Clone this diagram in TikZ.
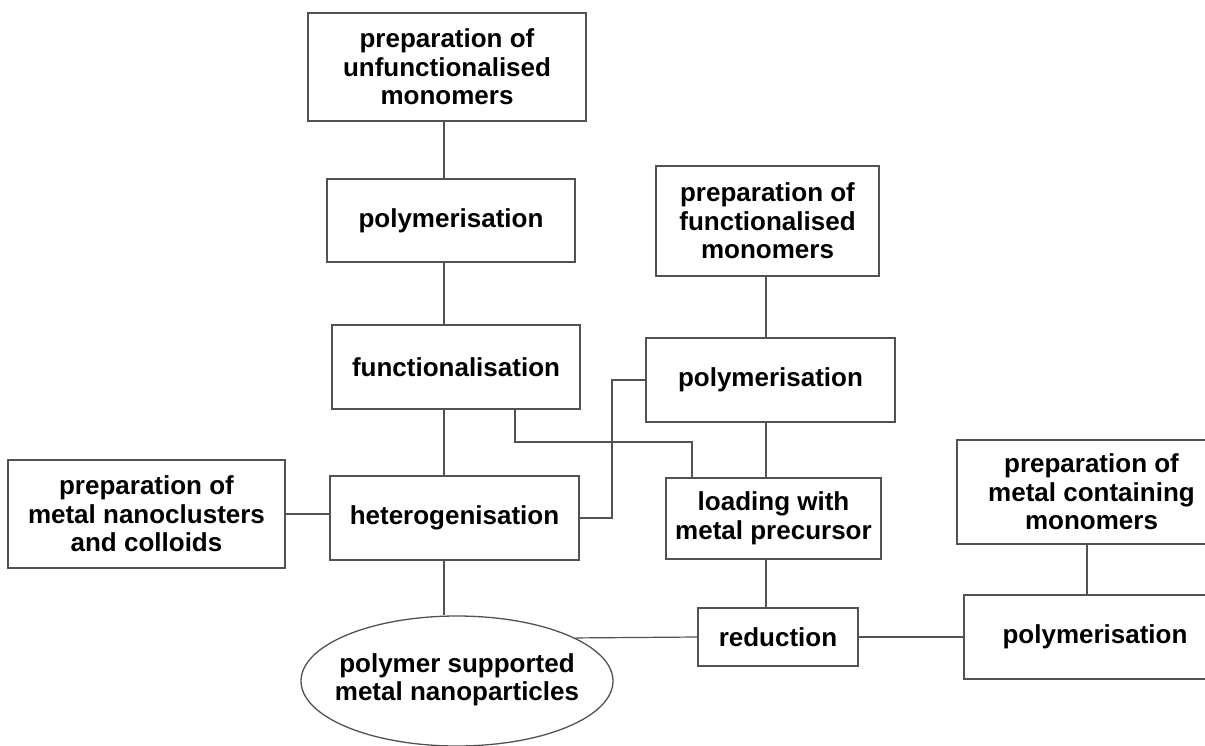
\documentclass[tikz,border=0pt]{standalone}
\usepackage{fontspec}
\setmainfont{Liberation Sans}
\usetikzlibrary{shapes.geometric}
\tikzset{
  lbl/.style={font=\fontsize{26}{28.5}\selectfont\bfseries, align=center, text=black},
  box/.style={lbl, draw=black!68, line width=1.3pt, rectangle, inner sep=0pt},
  oval/.style={lbl, draw=black!68, line width=1.3pt, ellipse, inner sep=0pt},
  conn/.style={draw=black!68, line width=1.2pt}
}
\begin{document}
\begin{tikzpicture}[x=1pt,y=-1pt]
\useasboundingbox (0,0) rectangle (1205,745);
\clip (0,0) rectangle (1205,745);
\fill[white] (0,0) rectangle (1205,745);

\node[box, minimum width=278pt, minimum height=108pt] (top) at (447,67) {preparation of\\unfunctionalised\\monomers};
\node[box, minimum width=248pt, minimum height=83pt] (polyL) at (451,220.5) {polymerisation};
\node[box, minimum width=223pt, minimum height=110pt] (prepF) at (767.5,221) {preparation of\\functionalised\\monomers};
\node[box, minimum width=248pt, minimum height=84pt] (func) at (456,367) {functionalisation};
\node[box, minimum width=249pt, minimum height=84pt] (polyR) at (770.5,380) {polymerisation};
\node[box, minimum width=249pt, minimum height=84pt] (hetero) at (454.5,518) {heterogenisation};
\node[box, minimum width=277pt, minimum height=108pt] (nano) at (146.5,514) {preparation of\\metal nanoclusters\\and colloids};
\node[box, minimum width=215pt, minimum height=81pt] (load) at (773.5,518.5) {loading with\\metal precursor};
\node[box, minimum width=269pt, minimum height=104pt] (prepM) at (1091.5,492) {preparation of\\metal containing\\monomers};
\node[box, minimum width=262pt, minimum height=84pt] (polyBR) at (1095,637) {polymerisation};
\node[box, minimum width=160pt, minimum height=58pt] (red) at (778,637) {reduction};
\node[oval, minimum width=312pt, minimum height=130pt] (ell) at (457,681)
  {\makebox[0pt][c]{\begin{tabular}{@{}c@{}}polymer supported\\metal nanoparticles\end{tabular}}};

\coordinate (spine) at (444,0);
\coordinate (spineR) at (766,0);
\coordinate (spineM) at (1087,0);
\coordinate (fa) at (515,442);
\coordinate (fb) at (692,442);
\coordinate (hb) at (612,380);

\draw[conn] (top.south -| spine) -- (polyL.north -| spine);
\draw[conn] (polyL.south -| spine) -- (func.north -| spine);
\draw[conn] (func.south -| spine) -- (hetero.north -| spine);
\draw[conn] (hetero.south -| spine) -- (ell.north -| spine);
\draw[conn] (func.south -| fa) -- (fa) -- (fb) -- (load.north -| fb);
\draw[conn] (hetero.east) -| (hb) -- (polyR.west);
\draw[conn] (nano.east) -- (hetero.west |- nano.east);
\draw[conn] (prepF.south -| spineR) -- (polyR.north -| spineR);
\draw[conn] (polyR.south -| spineR) -- (load.north -| spineR);
\draw[conn] (load.south -| spineR) -- (red.north -| spineR);
\draw[conn] (red.west) -- (ell.20);
\draw[conn] (red.east) -- (polyBR.west);
\draw[conn] (prepM.south -| spineM) -- (polyBR.north -| spineM);
\end{tikzpicture}
\end{document}
